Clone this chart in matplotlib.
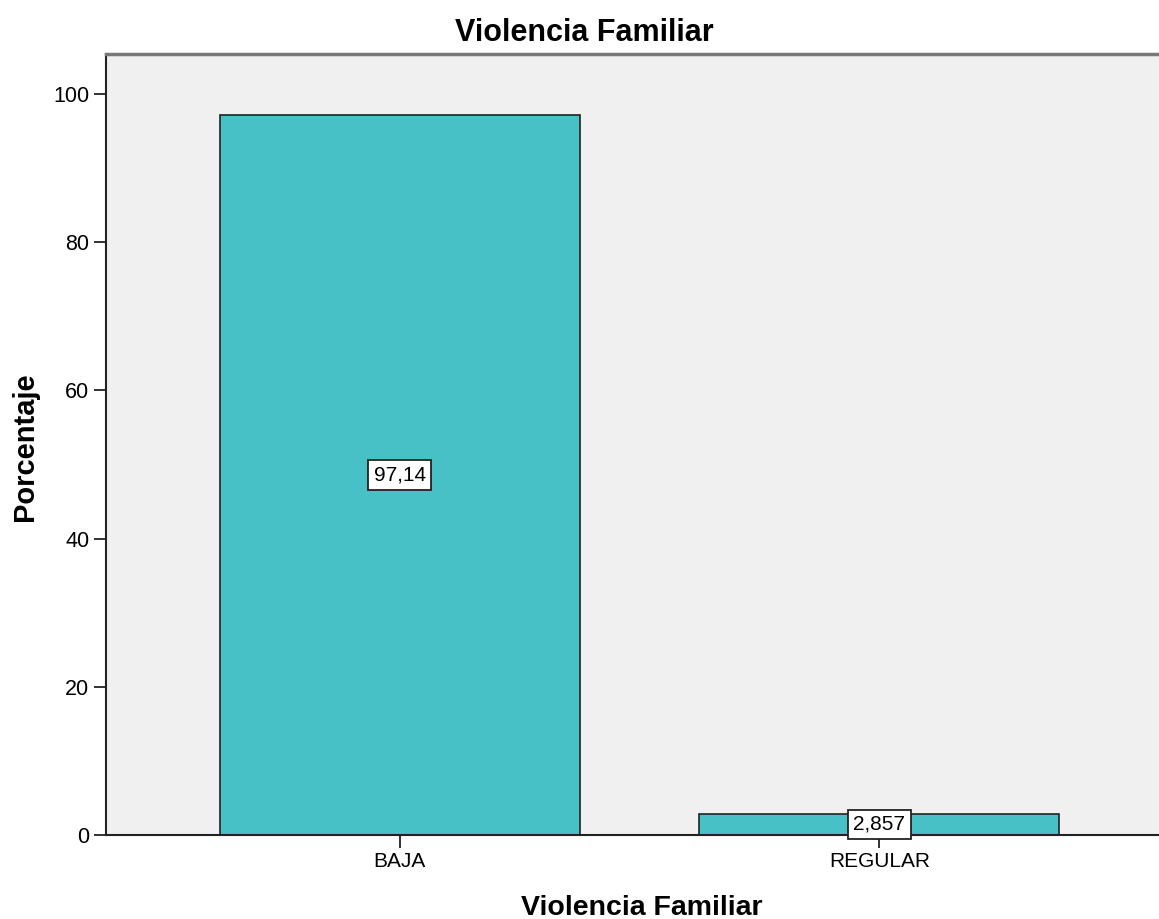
import matplotlib
matplotlib.use("Agg")
import matplotlib.pyplot as plt

categories = ["BAJA", "REGULAR"]
values = [97.14, 2.857]
value_labels = ["97,14", "2,857"]
yticks = [0, 20, 40, 60, 80, 100]

plt.rcParams['font.family'] = ['Liberation Sans', 'DejaVu Sans']

W, H = 1159, 919
fig = plt.figure(figsize=(W / 100, H / 100), dpi=100)
ax = fig.add_axes([106 / W, 1 - 835 / H, (1173 - 106) / W, (835 - 54) / H])
ax.set_facecolor("#F0F0F0")

x = list(range(len(categories)))
ax.bar(x, values, width=0.75, color="#48C1C6", edgecolor="#222222", linewidth=1.2, zorder=2)
for xi, v, lab in zip(x, values, value_labels):
    ax.text(xi, v / 2, lab, ha="center", va="center", fontsize=15, zorder=3,
            bbox=dict(boxstyle="square,pad=0.25", fc="white", ec="#222222", lw=1.3))

ax.set_xlim(-0.612, 1.612)
ax.set_ylim(0, 105.4)
ax.set_xticks(x)
ax.set_xticklabels(categories, fontsize=15)
ax.set_yticks(yticks)
ax.set_yticklabels([str(t) for t in yticks], fontsize=15.5)
ax.tick_params(axis="both", direction="out", length=9, width=1.3, color="#222222", pad=3)

for s in ["left", "bottom"]:
    ax.spines[s].set_color("#222222")
    ax.spines[s].set_linewidth(1.5)
ax.spines["top"].set_color("#777777")
ax.spines["top"].set_linewidth(2.5)
ax.spines["right"].set_visible(False)

fig.text(584 / W, 1 - 33 / H, "Violencia Familiar", fontsize=22, fontweight="bold",
         ha="center", va="center")
fig.text(642 / W, 1 - 908 / H, "Violencia Familiar", fontsize=20.5, fontweight="bold",
         ha="center", va="center")
fig.text(25 / W, 1 - 447 / H, "Porcentaje", fontsize=21, fontweight="bold",
         ha="center", va="center", rotation=90)

fig.savefig("out.png", dpi=100)
